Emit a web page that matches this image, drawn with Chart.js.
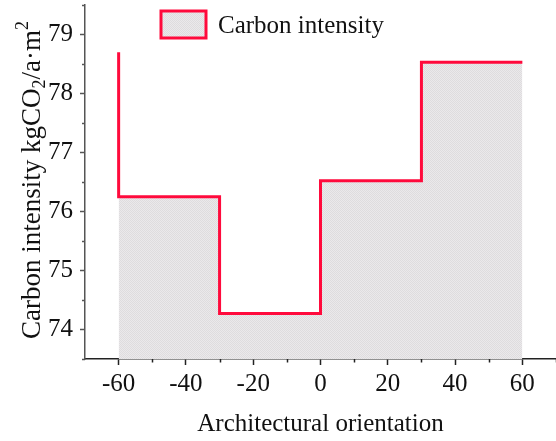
<!DOCTYPE html>
<html>
<head>
<meta charset="utf-8">
<script src="https://cdn.jsdelivr.net/npm/chart.js@4.4.1/dist/chart.umd.min.js"></script>
<style>
  html, body { margin: 0; padding: 0; background: #fff; overflow: hidden; }
  #wrap { width: 556px; height: 441px; position: relative; }
</style>
</head>
<body>
<div id="wrap"><canvas id="chart"></canvas></div>
<script>
// Orientation (degrees) and carbon intensity (kgCO2/a·m2), drawn as a step line
const orientations = [-60, -30, 0, 30, 60];
const intensity = [78.7, 76.25, 74.27, 76.52, 78.53];
const xTickValues = [-60, -40, -20, 0, 20, 40, 60];
const yTickValues = [74, 75, 76, 77, 78, 79];
const seriesLabel = 'Carbon intensity';
const xTitle = 'Architectural orientation';

const FONT = "'Liberation Serif', 'Times New Roman', serif";
const RED = '#ff0a3c';

// fine grey checker texture used for the area fill
function makePattern() {
  const c = document.createElement('canvas');
  c.width = 2; c.height = 2;
  const g = c.getContext('2d');
  g.fillStyle = '#ebe9eb'; g.fillRect(0, 0, 2, 2);
  g.fillStyle = '#dedcde'; g.fillRect(0, 0, 1, 1); g.fillRect(1, 1, 1, 1);
  return g.createPattern(c, 'repeat');
}
const fillPattern = makePattern();

// minor ticks between the major ones
const minorTicks = {
  id: 'minorTicks',
  afterDraw(chart) {
    const ctx = chart.ctx;
    const x = chart.scales.x, y = chart.scales.y;
    ctx.save();
    ctx.lineWidth = 1.5;
    ctx.strokeStyle = '#222';
    for (let v = -50; v <= 70; v += 20) {
      const px = Math.round(x.getPixelForValue(v)) + 0.5;
      ctx.beginPath(); ctx.moveTo(px, y.bottom); ctx.lineTo(px, y.bottom + 3.5); ctx.stroke();
    }
    ctx.strokeStyle = '#555';
    for (let v = 73.5; v <= 79.5; v += 1) {
      const py = Math.round(y.getPixelForValue(v)) + 0.5;
      ctx.beginPath(); ctx.moveTo(x.left, py); ctx.lineTo(x.left - 3, py); ctx.stroke();
    }
    ctx.restore();
  }
};

// rotated y-axis title with subscript / superscript
const yTitle = {
  id: 'yTitle',
  afterDraw(chart) {
    const ctx = chart.ctx;
    const parts = [
      { t: 'Carbon intensity kgCO', size: 27, dy: 0 },
      { t: '2', size: 18, dy: 5 },
      { t: '/a\u00b7m', size: 27, dy: 0 },
      { t: '2', size: 18, dy: -12 }
    ];
    ctx.save();
    let total = 0;
    parts.forEach(p => { ctx.font = p.size + 'px ' + FONT; p.w = ctx.measureText(p.t).width; total += p.w; });
    ctx.translate(40, 180);
    ctx.rotate(-Math.PI / 2);
    ctx.fillStyle = '#111';
    ctx.textBaseline = 'alphabetic';
    let cx = -total / 2;
    parts.forEach(p => {
      ctx.font = p.size + 'px ' + FONT;
      ctx.fillText(p.t, cx, p.dy);
      cx += p.w;
    });
    ctx.restore();
  }
};

// legend box with the pattern fill and red outline
const boxLegend = {
  id: 'boxLegend',
  afterDraw(chart) {
    const ctx = chart.ctx;
    const ds = chart.data.datasets[0];
    ctx.save();
    ctx.fillStyle = fillPattern;
    ctx.fillRect(161, 11, 45, 27);
    ctx.strokeStyle = ds.borderColor;
    ctx.lineWidth = 3;
    ctx.strokeRect(161, 11, 45, 27);
    ctx.fillStyle = '#111';
    ctx.font = '25px ' + FONT;
    ctx.textBaseline = 'middle';
    ctx.fillText(ds.label, 218, 26);
    ctx.restore();
  }
};

new Chart(document.getElementById('chart'), {
  type: 'line',
  data: {
    datasets: [{
      label: seriesLabel,
      data: orientations.map((o, i) => ({ x: o, y: intensity[i] })),
      stepped: 'after',
      borderColor: RED,
      borderWidth: 3,
      backgroundColor: fillPattern,
      fill: 'start',
      pointRadius: 0,
      borderJoinStyle: 'miter'
    }]
  },
  options: {
    responsive: true,
    maintainAspectRatio: false,
    animation: false,
    layout: { padding: { top: 5, right: 0, left: 0, bottom: 0 } },
    plugins: { legend: { display: false }, tooltip: { enabled: false } },
    scales: {
      x: {
        type: 'linear',
        min: -70, max: 70,
        afterBuildTicks: s => { s.ticks = xTickValues.map(v => ({ value: v })); },
        afterFit: s => { s.height = 82; s.paddingLeft = 0; s.paddingRight = 0; },
        border: { display: true, color: '#222', width: 1.5 },
        grid: { display: true, drawOnChartArea: false, drawTicks: true, tickLength: 6, tickColor: '#222', tickWidth: 1.5 },
        ticks: { color: '#111', font: { family: FONT, size: 25 }, padding: 4, maxRotation: 0 },
        title: { display: true, text: xTitle, color: '#111', font: { family: FONT, size: 25 }, padding: { top: 4, bottom: 2 } }
      },
      y: {
        type: 'linear',
        min: 73.5, max: 79.5,
        afterBuildTicks: s => { s.ticks = yTickValues.map(v => ({ value: v })); },
        afterFit: s => { s.width = 85; s.paddingTop = 0; s.paddingBottom = 0; },
        border: { display: true, color: '#555', width: 1.5 },
        grid: { display: true, drawOnChartArea: false, drawTicks: true, tickLength: 5, tickColor: '#555', tickWidth: 1.5 },
        ticks: { color: '#111', font: { family: FONT, size: 25 }, padding: 7 }
      }
    }
  },
  plugins: [minorTicks, yTitle, boxLegend]
});
</script>
</body>
</html>
